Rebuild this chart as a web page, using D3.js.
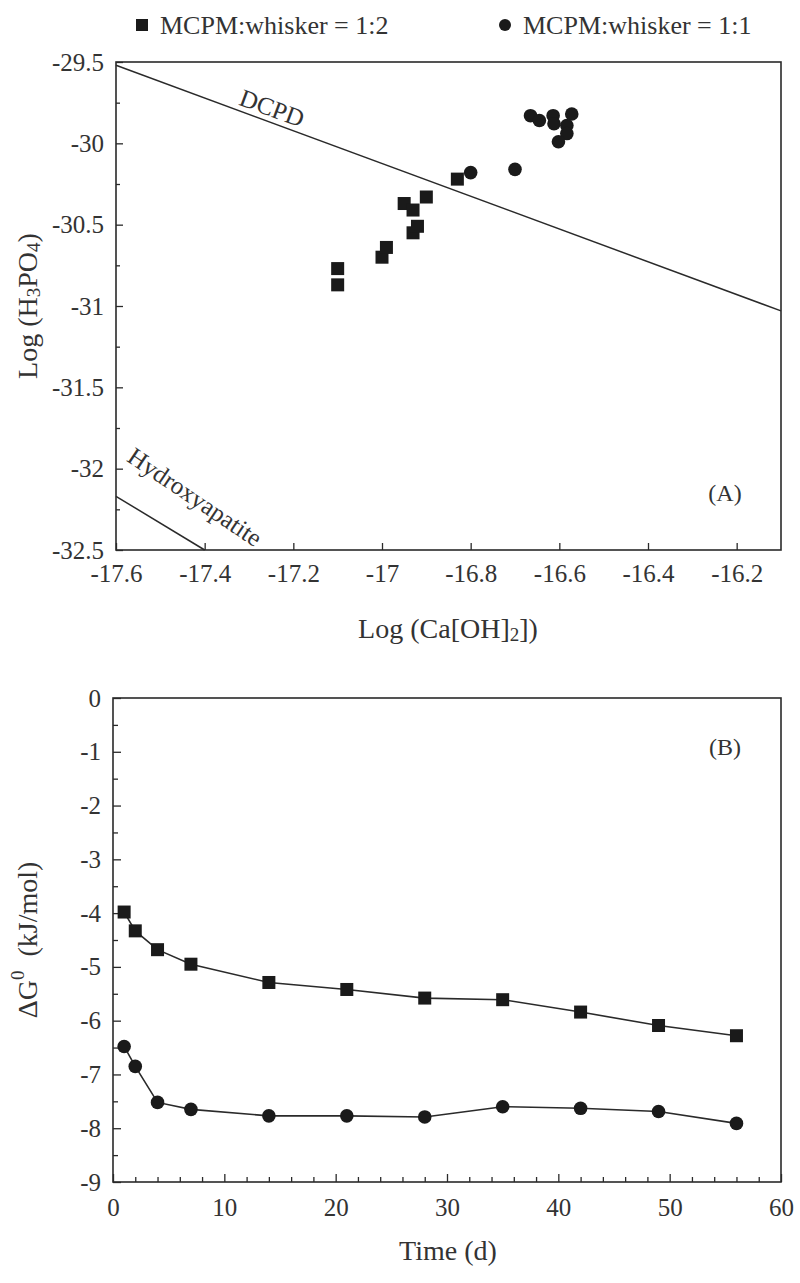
<!DOCTYPE html>
<html><head><meta charset="utf-8">
<script src="https://cdn.jsdelivr.net/npm/d3@7"></script>
<style>
body{margin:0;background:#fff;}
svg{display:block;font-family:"Liberation Serif","Times New Roman",serif;}
svg text{font-family:"Liberation Serif","Times New Roman",serif !important;}
</style></head>
<body><svg id="c" width="800" height="1283"></svg>
<script>
// ---- Panel A data ----
const sqX = [-17.10,-17.10,-17.00,-16.99,-16.93,-16.92,-16.95,-16.93,-16.90,-16.83];
const sqY = [-30.77,-30.87,-30.70,-30.64,-30.55,-30.51,-30.37,-30.41,-30.33,-30.22];
const ciX = [-16.80,-16.70,-16.665,-16.645,-16.614,-16.612,-16.572,-16.583,-16.583,-16.602];
const ciY = [-30.18,-30.16,-29.83,-29.86,-29.83,-29.88,-29.82,-29.89,-29.94,-29.99];
const dcpdX = [-17.6,-16.1];
const dcpdY = [-29.52,-31.03];
const haX = [-17.6,-17.4];
const haY = [-32.17,-32.5];
const aXTicks = [-17.6,-17.4,-17.2,-17,-16.8,-16.6,-16.4,-16.2];
const aYTicks = [-29.5,-30,-30.5,-31,-31.5,-32,-32.5];
// ---- Panel B data ----
const time = [1,2,4,7,14,21,28,35,42,49,56];
const g12 = [-3.98,-4.33,-4.68,-4.95,-5.29,-5.42,-5.58,-5.61,-5.84,-6.09,-6.28];
const g11 = [-6.48,-6.85,-7.52,-7.65,-7.77,-7.77,-7.79,-7.60,-7.63,-7.69,-7.91];
const bXTicks = [0,10,20,30,40,50,60];
const bYTicks = [0,-1,-2,-3,-4,-5,-6,-7,-8,-9];
const legendLabels = ["MCPM:whisker = 1:2","MCPM:whisker = 1:1"];

const SERIF = "'Liberation Serif', 'Times New Roman', serif";
const svg = d3.select("#c");
const ink = "#2a2a2a";
const txt = "#333";
const fmt = d => String(d).replace("\u2212","-");

function styleAxis(g, fs){
  g.attr("font-family",null).style("font-family",SERIF).attr("font-size",fs);
  g.select(".domain").remove();
  g.selectAll(".tick line").attr("stroke",ink).attr("stroke-width",1.3);
  g.selectAll(".tick text").attr("fill",txt).attr("font-size",fs).style("font-family",SERIF);
}

// ---- Panel A ----
const A = {l:116, r:781, t:62, b:550};
const xA = d3.scaleLinear().domain([-17.6,-16.1]).range([A.l,A.r]);
const yA = d3.scaleLinear().domain([-32.5,-29.5]).range([A.b,A.t]);
const gA = svg.append("g");

gA.append("g").attr("transform",`translate(0,${A.b})`)
  .call(d3.axisBottom(xA).tickValues(aXTicks).tickSize(-7).tickPadding(14).tickFormat(fmt))
  .call(g=>styleAxis(g,25));
gA.append("g").attr("transform",`translate(${A.l},0)`)
  .call(d3.axisLeft(yA).tickValues(aYTicks).tickSize(-7).tickPadding(12).tickFormat(fmt))
  .call(g=>styleAxis(g,25));
gA.append("g").attr("transform",`translate(${A.l},0)`)
  .call(d3.axisLeft(yA).tickValues(d3.range(-29.75,-32.5,-0.5)).tickSize(-4).tickFormat(""))
  .call(g=>styleAxis(g,25));
gA.append("rect").attr("x",A.l).attr("y",A.t).attr("width",A.r-A.l).attr("height",A.b-A.t)
  .attr("fill","none").attr("stroke",ink).attr("stroke-width",1.6);

const lineA = d3.line().x(d=>xA(d[0])).y(d=>yA(d[1]));
gA.append("path").attr("d",lineA(d3.zip(dcpdX,dcpdY))).attr("fill","none").attr("stroke",ink).attr("stroke-width",1.5);
gA.append("path").attr("d",lineA(d3.zip(haX,haY))).attr("fill","none").attr("stroke",ink).attr("stroke-width",1.5);

const angD = Math.atan2(yA(dcpdY[1])-yA(dcpdY[0]), xA(dcpdX[1])-xA(dcpdX[0]))*180/Math.PI;
gA.append("text").attr("transform",`translate(272,108) rotate(${angD})`)
  .attr("text-anchor","middle").attr("dominant-baseline","central").attr("font-size",25).attr("fill",txt).text("DCPD");
gA.append("text").attr("transform",`translate(195,497) rotate(34)`)
  .attr("text-anchor","middle").attr("dominant-baseline","central").attr("font-size",25).attr("fill",txt).text("Hydroxyapatite");
gA.append("text").attr("x",725).attr("y",493).attr("text-anchor","middle").attr("dominant-baseline","central")
  .attr("font-size",24).attr("fill",txt).text("(A)");

gA.selectAll(".sq").data(d3.zip(sqX,sqY)).join("rect")
  .attr("x",d=>xA(d[0])-6.5).attr("y",d=>yA(d[1])-6.5).attr("width",13).attr("height",13).attr("fill","#1a1a1a");
gA.selectAll(".ci").data(d3.zip(ciX,ciY)).join("circle")
  .attr("cx",d=>xA(d[0])).attr("cy",d=>yA(d[1])).attr("r",6.8).attr("fill","#1a1a1a");

// axis titles A
const tA = gA.append("text").attr("transform",`translate(27,${(A.t+A.b)/2}) rotate(-90)`)
  .attr("text-anchor","middle").attr("dominant-baseline","central").attr("font-size",28).attr("fill",txt);
tA.append("tspan").text("Log (H");
tA.append("tspan").attr("font-size",19).attr("dy",6).text("3");
tA.append("tspan").attr("dy",-6).text("PO");
tA.append("tspan").attr("font-size",19).attr("dy",6).text("4");
tA.append("tspan").attr("dy",-6).text(")");
const tAx = gA.append("text").attr("x",448).attr("y",628).attr("text-anchor","middle")
  .attr("dominant-baseline","central").attr("font-size",28).attr("fill",txt);
tAx.append("tspan").text("Log (Ca[OH]");
tAx.append("tspan").attr("font-size",19).attr("dy",6).text("2");
tAx.append("tspan").attr("dy",-6).text("])");

// legend
const lg = svg.append("g");
lg.append("rect").attr("x",136).attr("y",19).attr("width",12).attr("height",12).attr("fill","#1a1a1a");
lg.append("text").attr("x",160).attr("y",25).attr("dominant-baseline","central").attr("font-size",26).attr("fill",txt).text(legendLabels[0]);
lg.append("circle").attr("cx",505).attr("cy",25).attr("r",6).attr("fill","#1a1a1a");
lg.append("text").attr("x",523).attr("y",25).attr("dominant-baseline","central").attr("font-size",26).attr("fill",txt).text(legendLabels[1]);

// ---- Panel B ----
const B = {l:113, r:781, t:698, b:1182};
const xB = d3.scaleLinear().domain([0,60]).range([B.l,B.r]);
const yB = d3.scaleLinear().domain([-9,0]).range([B.b,B.t]);
const gB = svg.append("g");
gB.append("g").attr("transform",`translate(0,${B.b})`)
  .call(d3.axisBottom(xB).tickValues(bXTicks).tickSize(-8).tickPadding(16).tickFormat(fmt))
  .call(g=>styleAxis(g,25));
gB.append("g").attr("transform",`translate(0,${B.b})`)
  .call(d3.axisBottom(xB).tickValues(d3.range(2,60,2).filter(v=>v%10!==0)).tickSize(-5).tickFormat(""))
  .call(g=>styleAxis(g,25));
gB.append("g").attr("transform",`translate(${B.l},0)`)
  .call(d3.axisLeft(yB).tickValues(bYTicks).tickSize(-8).tickPadding(12).tickFormat(fmt))
  .call(g=>styleAxis(g,25));
gB.append("g").attr("transform",`translate(${B.l},0)`)
  .call(d3.axisLeft(yB).tickValues(d3.range(-0.5,-9,-1)).tickSize(-5).tickFormat(""))
  .call(g=>styleAxis(g,25));
gB.append("rect").attr("x",B.l).attr("y",B.t).attr("width",B.r-B.l).attr("height",B.b-B.t)
  .attr("fill","none").attr("stroke",ink).attr("stroke-width",1.6);

const lineB = d3.line().x(d=>xB(d[0])).y(d=>yB(d[1]));
gB.append("path").attr("d",lineB(d3.zip(time,g12))).attr("fill","none").attr("stroke",ink).attr("stroke-width",1.6);
gB.append("path").attr("d",lineB(d3.zip(time,g11))).attr("fill","none").attr("stroke",ink).attr("stroke-width",1.6);
gB.selectAll(".s2").data(d3.zip(time,g12)).join("rect")
  .attr("x",d=>xB(d[0])-6.5).attr("y",d=>yB(d[1])-6.5).attr("width",13).attr("height",13).attr("fill","#1a1a1a");
gB.selectAll(".c1").data(d3.zip(time,g11)).join("circle")
  .attr("cx",d=>xB(d[0])).attr("cy",d=>yB(d[1])).attr("r",6.8).attr("fill","#1a1a1a");
gB.append("text").attr("x",725).attr("y",747).attr("text-anchor","middle").attr("dominant-baseline","central")
  .attr("font-size",24).attr("fill",txt).text("(B)");

const tB = gB.append("text").attr("transform",`translate(27,${(B.t+B.b)/2}) rotate(-90)`)
  .attr("text-anchor","middle").attr("dominant-baseline","central").attr("font-size",28).attr("fill",txt);
tB.append("tspan").text("\u0394G");
tB.append("tspan").attr("font-size",19).attr("dy",-10).text("0");
tB.append("tspan").attr("dy",10).text("\u00a0 (kJ/mol)");
gB.append("text").attr("x",448).attr("y",1250).attr("text-anchor","middle").attr("dominant-baseline","central")
  .attr("font-size",28).attr("fill",txt).text("Time (d)");
</script></body></html>
